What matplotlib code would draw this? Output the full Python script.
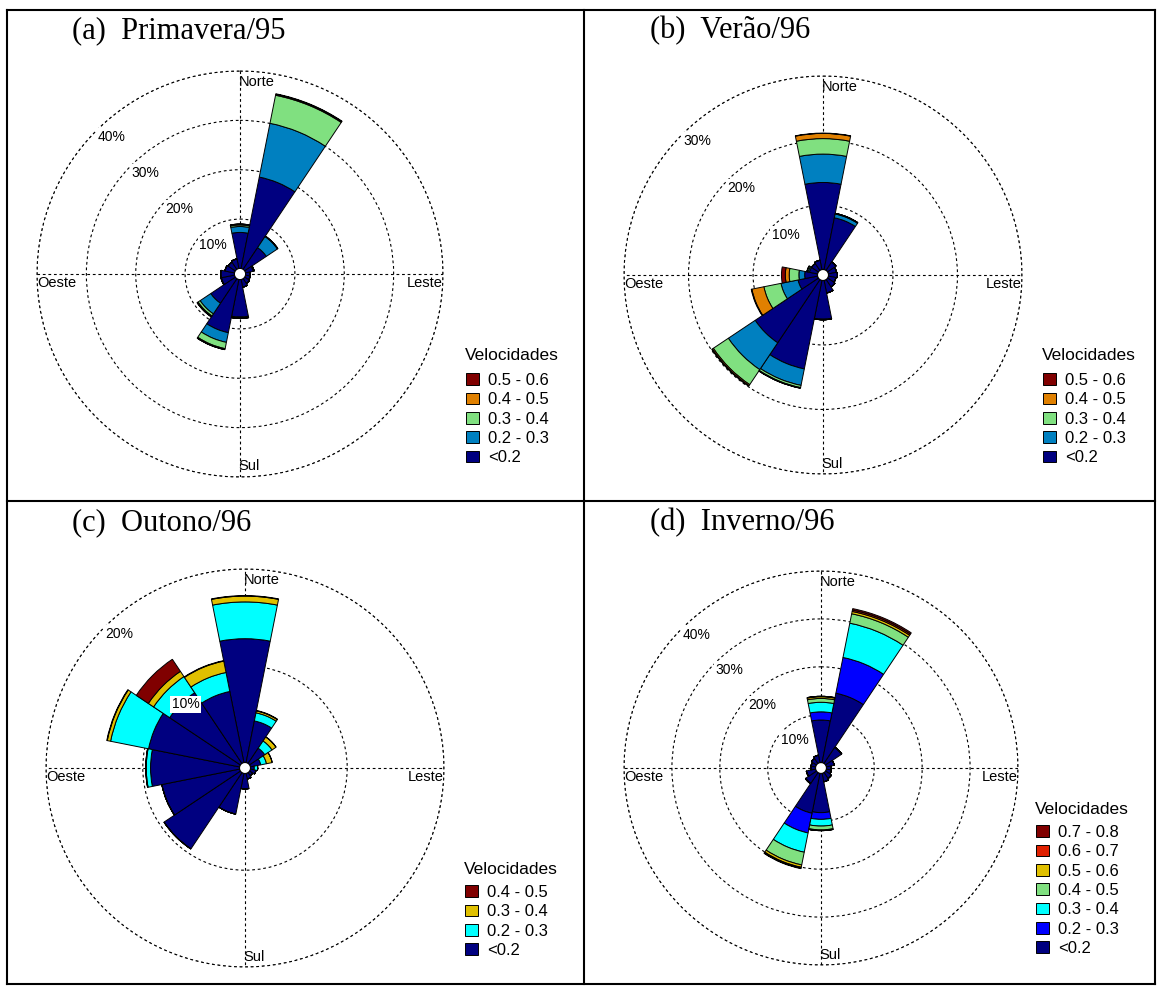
import numpy as np
import matplotlib.pyplot as plt
from matplotlib.lines import Line2D

# 16 directions, clockwise from north
DIRS = ['N', 'NNE', 'NE', 'ENE', 'E', 'ESE', 'SE', 'SSE',
        'S', 'SSW', 'SW', 'WSW', 'W', 'WNW', 'NW', 'NNW']

# (a) Primavera/95 - percent per direction, one list per speed class (<0.2 first)
prim_labels = ['<0.2', '0.2 - 0.3', '0.3 - 0.4', '0.4 - 0.5', '0.5 - 0.6']
prim_lt02 = [7.3, 18.9, 5.3, 1.6, 0.9, 1.0, 1.2, 1.6, 7.6, 11.0, 6.0, 2.7, 2.8, 2.0, 1.8, 2.0]
prim_02_03 = [1.2, 11.1, 2.7, 0.2, 0, 0, 0, 0, 0.15, 2.0, 2.6, 0.1, 0, 0, 0, 0]
prim_03_04 = [0.3, 5.8, 0.1, 0, 0, 0, 0, 0, 0.1, 1.3, 0.5, 0, 0, 0, 0, 0]
prim_04_05 = [0.2, 0.2, 0, 0, 0, 0, 0, 0, 0.05, 0.2, 0.2, 0, 0, 0, 0, 0]
prim_05_06 = [0, 0.1, 0, 0, 0, 0, 0, 0, 0, 0, 0.05, 0, 0, 0, 0, 0]

# (b) Verão/96
ver_labels = ['<0.2', '0.2 - 0.3', '0.3 - 0.4', '0.4 - 0.5', '0.5 - 0.6']
ver_lt02 = [13.5, 8.2, 1.6, 1.3, 1.4, 1.2, 1.4, 2.0, 6.0, 14.0, 11.8, 3.1, 2.0, 1.3, 1.3, 1.5]
ver_02_03 = [4.4, 0.6, 0, 0, 0, 0, 0, 0, 0.1, 2.6, 5.0, 2.7, 0.9, 0.2, 0, 0]
ver_03_04 = [2.4, 0.1, 0, 0, 0, 0, 0, 0, 0, 0.35, 2.8, 2.7, 1.5, 0.2, 0, 0]
ver_04_05 = [0.8, 0, 0, 0, 0, 0, 0, 0, 0, 0.1, 0.2, 1.9, 0.6, 0, 0, 0]
ver_05_06 = [0.05, 0, 0, 0, 0, 0, 0, 0, 0, 0, 0.1, 0.1, 0.6, 0, 0, 0]

# (c) Outono/96
out_labels = ['<0.2', '0.2 - 0.3', '0.3 - 0.4', '0.4 - 0.5']
out_lt02 = [12.8, 4.4, 1.9, 1.1, 0.4, 0.6, 0.4, 0.6, 1.6, 4.3, 9.5, 8.2, 9.2, 9.6, 8.8, 7.5]
out_02_03 = [3.8, 0.85, 0.9, 0.6, 0.35, 0, 0, 0, 0, 0, 0, 0, 0.45, 4.0, 2.0, 2.0]
out_03_04 = [0.6, 0.2, 0.5, 0.6, 0, 0, 0, 0, 0, 0, 0, 0, 0.05, 0.35, 0.65, 1.2]
out_04_05 = [0.05, 0.05, 0, 0, 0, 0, 0, 0, 0, 0, 0, 0, 0, 0.05, 1.5, 0.05]

# (d) Inverno/96
inv_labels = ['<0.2', '0.2 - 0.3', '0.3 - 0.4', '0.4 - 0.5', '0.5 - 0.6', '0.6 - 0.7', '0.7 - 0.8']
inv_lt02 = [8.9, 14.8, 4.0, 1.7, 1.0, 1.1, 1.5, 1.8, 8.2, 8.5, 2.7, 2.0, 1.0, 1.0, 1.3, 1.6]
inv_02_03 = [1.7, 7.6, 0.1, 0, 0, 0, 0, 0, 1.4, 4.2, 0.1, 0, 0, 0, 0, 0]
inv_03_04 = [2.0, 7.3, 0, 0, 0, 0, 0, 0, 1.4, 4.1, 0, 0, 0, 0, 0, 0]
inv_04_05 = [0.8, 2.0, 0, 0, 0, 0, 0, 0, 0.8, 2.7, 0, 0, 0, 0, 0, 0]
inv_05_06 = [0.35, 0.5, 0, 0, 0, 0, 0, 0, 0.15, 0.5, 0, 0, 0, 0, 0, 0]
inv_06_07 = [0.1, 0.3, 0, 0, 0, 0, 0, 0, 0, 0.2, 0, 0, 0, 0, 0, 0]
inv_07_08 = [0, 0.3, 0, 0, 0, 0, 0, 0, 0, 0.1, 0, 0, 0, 0, 0, 0]

NAVY = '#000080'
DKRED = '#800000'

W, H = 1157, 986
fig = plt.figure(figsize=(W / 100, H / 100), dpi=100)
fig.patch.set_facecolor('white')


def fx(x):
    return x / W


def fy(y):
    return 1 - y / H


def draw_rose(cx, cy, rad, layers, colors, labels, rmax, rings, title, tx, ty, leg_x, leg_title_y, leg_top):
    ax = fig.add_axes([fx(cx - rad), fy(cy + rad), 2 * rad / W, 2 * rad / H],
                      projection='polar')
    ax.set_theta_zero_location('N')
    ax.set_theta_direction(-1)
    ax.set_ylim(0, rmax)
    ax.set_rorigin(-0.028 * rmax)
    ax.set_axisbelow(True)

    theta = np.deg2rad(np.arange(len(DIRS)) * 22.5)
    width = np.deg2rad(22.5)
    bottom = np.zeros(len(DIRS))
    handles = []
    for vals, col, lab in zip(layers, colors, labels):
        vals = np.array(vals, dtype=float)
        b = ax.bar(theta, vals, width=width, bottom=bottom, color=col,
                   edgecolor='k', linewidth=0.7, label=lab)
        handles.append(b)
        bottom += vals

    ax.set_thetagrids([0, 90, 180, 270], labels=['', '', '', ''])
    ax.set_rgrids(rings, labels=[''] * len(rings))
    ax.grid(True, color='k', linestyle=(0, (2.5, 2.5)), linewidth=0.8)
    ax.spines['polar'].set_visible(False)
    if 'inner' in ax.spines:
        ax.spines['inner'].set_linewidth(0.7)
    # outer dashed circle
    tt = np.linspace(0, 2 * np.pi, 400)
    ax.plot(tt, np.full_like(tt, rmax), color='k', linestyle=(0, (2.5, 2.5)),
            linewidth=0.8, clip_on=False, zorder=0.5)

    # ring labels
    for r in rings:
        ax.text(np.deg2rad(317), r - 0.078 * rmax, f'{r}%', ha='center', va='center',
                fontsize=10, family='Liberation Sans', zorder=5,
                bbox=dict(facecolor='white', edgecolor='none', pad=1.2))

    # compass labels
    kw = dict(fontsize=10.5, family='Liberation Sans', transform=ax.transAxes)
    ax.text(0.497, 0.972, 'Norte', ha='left', va='center', **kw)
    ax.text(0.0, 0.477, 'Oeste', ha='left', va='center', **kw)
    ax.text(1.0, 0.477, 'Leste', ha='right', va='center', **kw)
    ax.text(0.497, 0.026, 'Sul', ha='left', va='center', **kw)

    fig.text(fx(tx), fy(ty), title, fontsize=22, family='Liberation Serif',
             ha='left', va='center')

    fig.text(fx(leg_x - 1), fy(leg_title_y), 'Velocidades', fontsize=12.5,
             family='Liberation Sans', ha='left', va='center')
    ax.legend(handles[::-1], labels[::-1], loc='upper left',
              bbox_to_anchor=(fx(leg_x), fy(leg_top)),
              bbox_transform=fig.transFigure, frameon=False,
              borderpad=0, borderaxespad=0, handlelength=0.78,
              handleheight=0.72, handletextpad=0.55, labelspacing=0.26,
              prop={'family': 'Liberation Sans', 'size': 12})
    return ax


draw_rose(240, 274, 203,
          [prim_lt02, prim_02_03, prim_03_04, prim_04_05, prim_05_06],
          [NAVY, '#0080C0', '#80E080', '#E08000', DKRED],
          prim_labels, 40, [10, 20, 30, 40],
          '(a)  Primavera/95', 72, 31, 466, 355, 373)

draw_rose(823, 275, 199,
          [ver_lt02, ver_02_03, ver_03_04, ver_04_05, ver_05_06],
          [NAVY, '#0080C0', '#80E080', '#E08000', DKRED],
          ver_labels, 30, [10, 20, 30],
          '(b)  Verão/96', 650, 31, 1043, 355, 373)

draw_rose(245, 768, 199,
          [out_lt02, out_02_03, out_03_04, out_04_05],
          [NAVY, '#00FFFF', '#E0C000', DKRED],
          out_labels, 20, [10, 20],
          '(c)  Outono/96', 72, 523, 465, 870, 885)

draw_rose(821, 768, 197,
          [inv_lt02, inv_02_03, inv_03_04, inv_04_05, inv_05_06, inv_06_07, inv_07_08],
          [NAVY, '#0000FF', '#00FFFF', '#80E080', '#E0C000', '#E02000', DKRED],
          inv_labels, 40, [10, 20, 30, 40],
          '(d)  Inverno/96', 650, 523, 1036, 810, 825)

# panel frame lines
for (x0, y0, x1, y1) in [(7, 10, 1155, 10), (7, 984, 1155, 984), (7, 10, 7, 984),
                         (1155, 10, 1155, 984), (584, 10, 584, 984), (7, 501, 1155, 501)]:
    fig.add_artist(Line2D([fx(x0), fx(x1)], [fy(y0), fy(y1)], color='k', linewidth=1.5))

fig.savefig('out.png', dpi=100)
